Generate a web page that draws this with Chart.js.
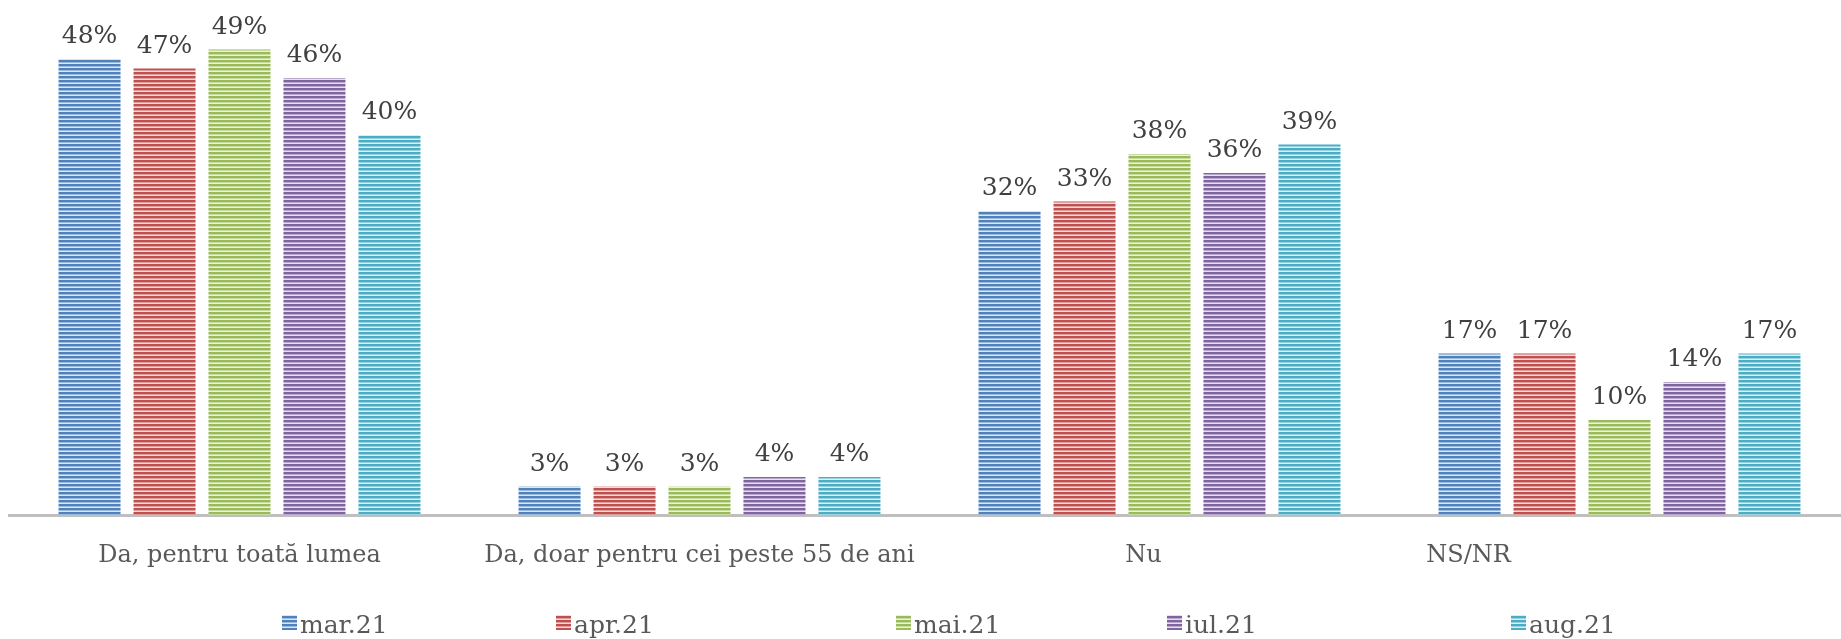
<!DOCTYPE html>
<html>
<head>
<meta charset="utf-8">
<script src="https://cdn.jsdelivr.net/npm/chart.js@4.4.1/dist/chart.umd.min.js"></script>
<style>
  html, body { margin: 0; padding: 0; background: #ffffff; overflow: hidden; }
  #wrap { position: relative; width: 1850px; height: 639px; }
</style>
</head>
<body>
<div id="wrap"><canvas id="c" width="1850" height="639"></canvas></div>
<script>
// ---- data ----
const categories = ["Da, pentru toată lumea", "Da, doar pentru cei peste 55 de ani", "Nu", "NS/NR"];
const seriesNames = ["mar.21", "apr.21", "mai.21", "iul.21", "aug.21"];
const mar21 = [48, 3, 32, 17];
const apr21 = [47, 3, 33, 17];
const mai21 = [49, 3, 38, 10];
const iul21 = [46, 4, 36, 14];
const aug21 = [40, 4, 39, 17];
const seriesValues = [mar21, apr21, mai21, iul21, aug21];
const yTicks = [0, 10, 20, 30, 40, 50];

// ---- styles ----
const colors = ["#4f81bd", "#c0504d", "#9bbb59", "#8064a2", "#4bacc6"];
const FONT = "'DejaVu Serif', 'Liberation Serif', serif";
const legendX = [282, 556, 896, 1167, 1511];
const catLabelOffset = [0, 0, -16, -151];

function mix(hex, w) {
  const n = parseInt(hex.slice(1), 16);
  const r = (n >> 16) & 255, g = (n >> 8) & 255, b = n & 255;
  const f = c => Math.round(c + (255 - c) * w);
  return `rgb(${f(r)},${f(g)},${f(b)})`;
}
function stripePattern(hex) {
  const pc = document.createElement('canvas');
  pc.width = 4; pc.height = 4;
  const p = pc.getContext('2d');
  p.fillStyle = hex; p.fillRect(0, 0, 4, 2);
  p.fillStyle = mix(hex, 0.45); p.fillRect(0, 2, 4, 1);
  p.fillStyle = mix(hex, 0.8); p.fillRect(0, 3, 4, 1);
  return document.getElementById('c').getContext('2d').createPattern(pc, 'repeat');
}
const patterns = colors.map(stripePattern);

const labelPlugin = {
  id: 'customLabels',
  afterDatasetsDraw(chart) {
    const ctx = chart.ctx;
    ctx.save();
    ctx.font = `25px ${FONT}`;
    ctx.fillStyle = '#404040';
    ctx.textAlign = 'center';
    ctx.textBaseline = 'alphabetic';
    chart.data.datasets.forEach((ds, di) => {
      chart.getDatasetMeta(di).data.forEach((bar, i) => {
        ctx.fillText(ds.data[i] + '%', bar.x, bar.y - 16);
      });
    });
    // category labels
    ctx.font = `24px ${FONT}`;
    const xs = chart.scales.x;
    ctx.fillStyle = '#595959';
    chart.data.labels.forEach((lab, i) => {
      ctx.fillText(lab, xs.getPixelForValue(i) + catLabelOffset[i], 562);
    });
    // legend
    ctx.font = `25px ${FONT}`;
    ctx.textAlign = 'left';
    chart.data.datasets.forEach((ds, di) => {
      const x = legendX[di];
      ctx.fillStyle = patterns[di];
      ctx.fillRect(x, 615, 15, 15);
      ctx.fillStyle = '#595959';
      ctx.fillText(ds.label, x + 18, 633);
    });
    ctx.restore();
  }
};

new Chart(document.getElementById('c'), {
  type: 'bar',
  data: {
    labels: categories,
    datasets: seriesNames.map((name, i) => ({
      label: name,
      data: seriesValues[i],
      backgroundColor: patterns[i],
      borderWidth: 0,
      categoryPercentage: 0.815,
      barPercentage: 0.827
    }))
  },
  options: {
    responsive: false,
    animation: false,
    layout: { padding: { top: 40, left: 9.5, right: 0.5, bottom: 0 } },
    plugins: { legend: { display: false }, tooltip: { enabled: false } },
    scales: {
      x: {
        grid: { display: false },
        border: { display: true, color: '#bfbfbf', width: 3 },
        ticks: { display: false },
        afterFit: s => { s.height = 124; }
      },
      y: {
        display: false,
        min: yTicks[0],
        max: yTicks[yTicks.length - 1]
      }
    }
  },
  plugins: [labelPlugin]
});
</script>
</body>
</html>
